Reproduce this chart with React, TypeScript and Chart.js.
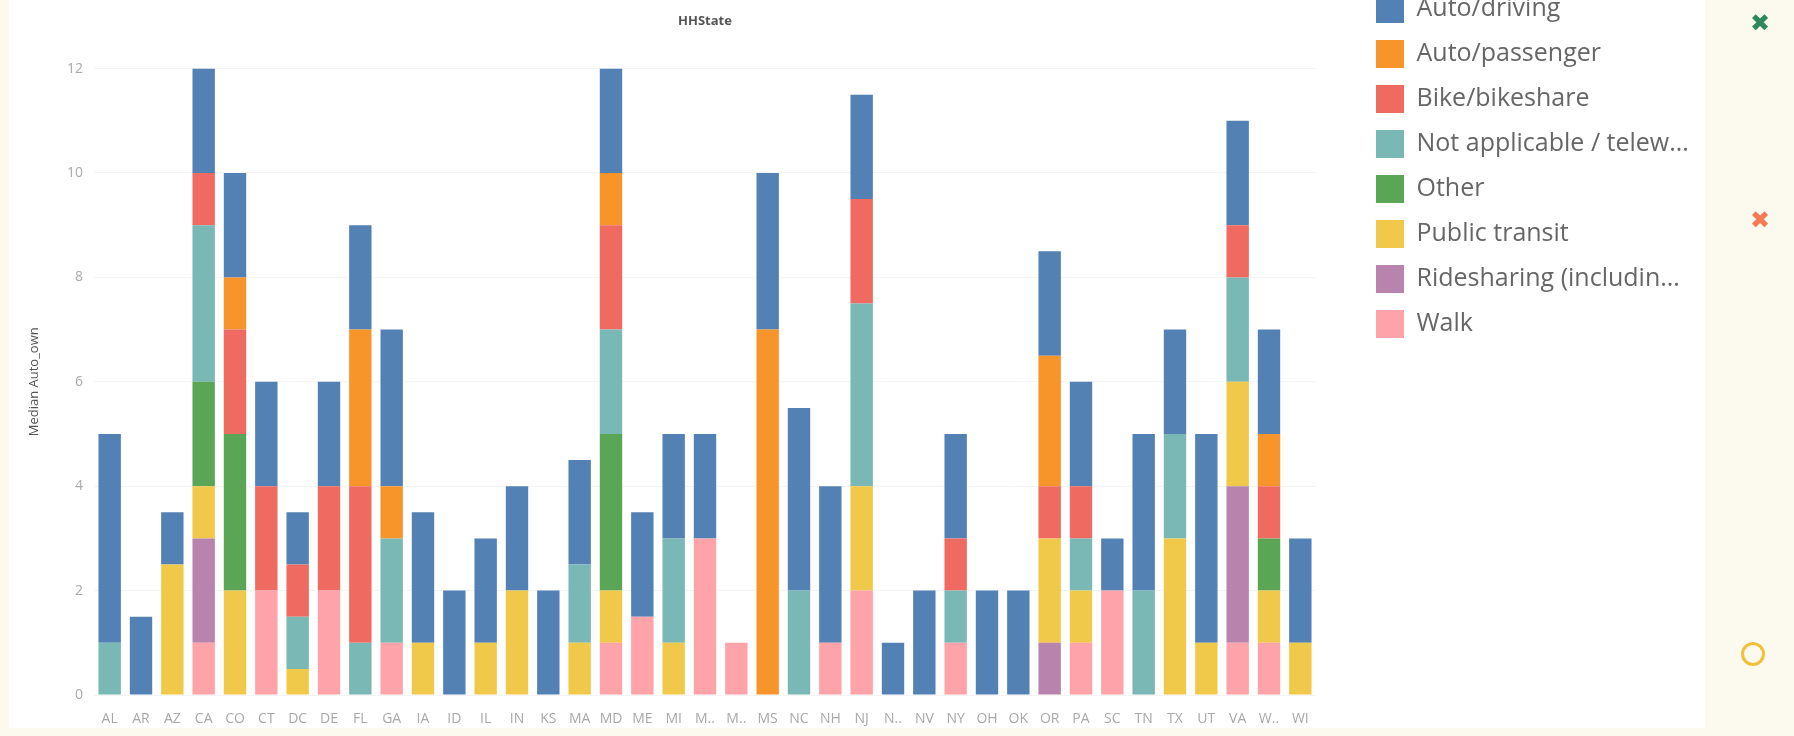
import { useEffect, useRef } from "react";
import { Chart, registerables } from "chart.js";

Chart.register(...registerables);

// ---- data ----
const states = [
  "AL", "AR", "AZ", "CA", "CO", "CT", "DC", "DE", "FL", "GA", "IA", "ID", "IL",
  "IN", "KS", "MA", "MD", "ME", "MI", "M..", "M..", "MS", "NC", "NH", "NJ", "N..",
  "NV", "NY", "OH", "OK", "OR", "PA", "SC", "TN", "TX", "UT", "VA", "W..", "WI",
];

//                 AL  AR   AZ CA CO CT DC DE FL GA IA   ID IL IN KS MA MD ME MI M  M  MS NC   NH NJ N  NV NY OH OK OR PA SC TN TX UT VA W  WI
const walk =      [0,  0,   0, 1, 0, 2, 0, 2, 0, 1, 0,   0, 0, 0, 0, 0, 1, 1.5, 0, 3, 1, 0, 0,  1, 2, 0, 0, 1, 0, 0, 0, 1, 2, 0, 0, 0, 1, 1, 0];
const ridesharing = [0, 0,  0, 2, 0, 0, 0, 0, 0, 0, 0,   0, 0, 0, 0, 0, 0, 0, 0, 0, 0, 0, 0,    0, 0, 0, 0, 0, 0, 0, 1, 0, 0, 0, 0, 0, 3, 0, 0];
const publicTransit = [0, 0, 2.5, 1, 2, 0, 0.5, 0, 0, 0, 1, 0, 1, 2, 0, 1, 1, 0, 1, 0, 0, 0, 0,   0, 2, 0, 0, 0, 0, 0, 2, 1, 0, 0, 3, 1, 2, 1, 1];
const other =     [0,  0,   0, 2, 3, 0, 0, 0, 0, 0, 0,   0, 0, 0, 0, 0, 3, 0, 0, 0, 0, 0, 0,    0, 0, 0, 0, 0, 0, 0, 0, 0, 0, 0, 0, 0, 0, 1, 0];
const notApplicable = [1, 0, 0, 3, 0, 0, 1, 0, 1, 2, 0,  0, 0, 0, 0, 1.5, 2, 0, 2, 0, 0, 0, 2,  0, 3.5, 0, 0, 1, 0, 0, 0, 1, 0, 2, 2, 0, 2, 0, 0];
const bike =      [0,  0,   0, 1, 2, 2, 1, 2, 3, 0, 0,   0, 0, 0, 0, 0, 2, 0, 0, 0, 0, 0, 0,    0, 2, 0, 0, 1, 0, 0, 1, 1, 0, 0, 0, 0, 1, 1, 0];
const autoPassenger = [0, 0, 0, 0, 1, 0, 0, 0, 3, 1, 0,  0, 0, 0, 0, 0, 1, 0, 0, 0, 0, 7, 0,    0, 0, 0, 0, 0, 0, 0, 2.5, 0, 0, 0, 0, 0, 0, 1, 0];
const autoDriving = [4, 1.5, 1, 2, 2, 2, 1, 2, 2, 3, 2.5, 2, 2, 2, 2, 2, 2, 2, 2, 2, 0, 3, 3.5,  3, 2, 1, 2, 2, 2, 2, 2, 2, 1, 3, 2, 4, 2, 2, 2];

const yTicks = [0, 2, 4, 6, 8, 10, 12];

// stacking order bottom -> top
const seriesLabels = [
  "Walk",
  "Ridesharing (includin...",
  "Public transit",
  "Other",
  "Not applicable / telew...",
  "Bike/bikeshare",
  "Auto/passenger",
  "Auto/driving",
];
const seriesValues = [walk, ridesharing, publicTransit, other, notApplicable, bike, autoPassenger, autoDriving];
const seriesColors = ["#ffa3ab", "#b884ae", "#f1c94a", "#5aa556", "#79b8b5", "#ef6a60", "#f7952b", "#5381b4"];

const W = 1794;
const H = 736;

export default function App() {
  const ref = useRef<HTMLCanvasElement>(null);

  useEffect(() => {
    if (!ref.current) return;

    const legendPlace = {
      id: "legendPlace",
      beforeInit(chart: any) {
        const lg = chart.legend;
        if (!lg) return;
        const orig = lg.fit;
        lg.fit = function () {
          orig.call(this);
          this.width = W - 1316;
        };
      },
      afterLayout(chart: any) {
        const lg = chart.legend;
        if (!lg) return;
        const h = lg.height;
        const w = lg.width;
        lg.left = 1359;
        lg.right = 1359 + w;
        lg.top = -22;
        lg.bottom = -22 + h;
      },
    };

    const chart = new Chart(ref.current, {
      type: "bar",
      data: {
        labels: states,
        datasets: seriesLabels.map((label, i) => ({
          label,
          data: seriesValues[i],
          backgroundColor: seriesColors[i],
          borderWidth: 0,
          categoryPercentage: 1,
          barPercentage: 0.715,
        })),
      },
      options: {
        responsive: false,
        animation: false,
        layout: { padding: 0 },
        plugins: {
          title: {
            display: true,
            text: "HHState",
            fullSize: false,
            color: "#555",
            font: { family: "Open Sans", size: 13, weight: "bold" },
            padding: { top: 13, bottom: 40 },
          },
          legend: {
            position: "right",
            align: "start",
            reverse: true,
            labels: {
              boxWidth: 28,
              boxHeight: 28,
              padding: 17,
              color: "#666",
              font: { family: "Open Sans", size: 25 },
            },
          },
          tooltip: { enabled: false },
        },
        scales: {
          x: {
            stacked: true,
            grid: { display: false },
            border: { display: false },
            ticks: {
              autoSkip: false,
              maxRotation: 0,
              minRotation: 0,
              padding: 8,
              color: "#a8a8a8",
              font: { family: "Open Sans", size: 14 },
            },
            afterFit(s: any) {
              s.height = 41;
            },
          },
          y: {
            stacked: true,
            min: 0,
            max: 12,
            afterBuildTicks(s: any) {
              s.ticks = yTicks.map((v) => ({ value: v }));
            },
            grid: { color: "#f4f4f4", drawTicks: false },
            border: { display: false },
            ticks: {
              padding: 11,
              color: "#aaaaaa",
              font: { family: "Open Sans", size: 14 },
            },
            title: {
              display: true,
              text: "Median Auto_own",
              color: "#555",
              font: { family: "Open Sans", size: 13 },
              padding: { top: 26, bottom: 0 },
            },
            afterFit(s: any) {
              s.width = 94;
            },
          },
        },
      },
      plugins: [legendPlace],
    });

    return () => chart.destroy();
  }, []);

  return (
    <div style={{ position: "absolute", left: 0, top: 0, width: W, height: H, background: "#fcf9ee", overflow: "hidden" }}>
      <div style={{ position: "absolute", left: 9, top: 0, width: 1696, height: 728, background: "#ffffff" }} />
      <canvas ref={ref} width={W} height={H} style={{ position: "absolute", left: 0, top: 0, width: W, height: H }} />
      <span style={{ position: "absolute", left: 1750, top: 8, color: "#2e8a5c", fontSize: 24, fontFamily: "DejaVu Sans", lineHeight: "30px" }}>✖</span>
      <span style={{ position: "absolute", left: 1750, top: 205, color: "#f47a55", fontSize: 24, fontFamily: "DejaVu Sans", lineHeight: "30px" }}>✖</span>
      <div style={{ position: "absolute", left: 1741, top: 642, width: 18, height: 18, borderRadius: "50%", border: "3px solid #f0c23a" }} />
    </div>
  );
}
